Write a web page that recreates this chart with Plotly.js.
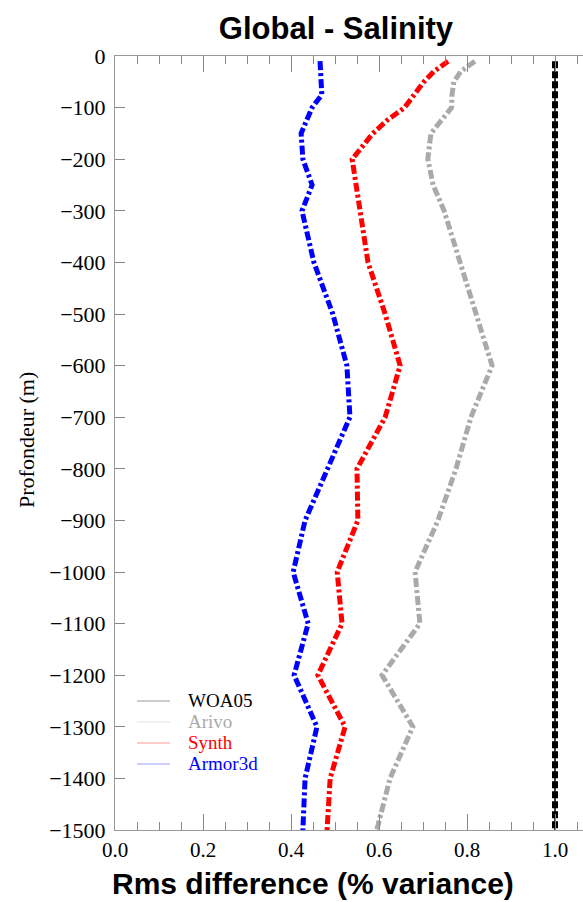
<!DOCTYPE html>
<html>
<head>
<meta charset="utf-8">
<script src="https://cdn.plot.ly/plotly-3.0.1.min.js"></script>
<style>
  html, body { margin: 0; padding: 0; background: #ffffff; }
  #chart { width: 583px; height: 902px; }
</style>
</head>
<body>
<div id="chart"></div>
<script>
// Depth levels (m)
var depth = [-10, -30, -50, -75, -100, -125, -150, -200, -250, -300, -400, -500,
             -600, -700, -800, -900, -1000, -1100, -1200, -1300, -1400, -1500];

// Rms difference (% variance) per product
var woa05   = [1.0, 1.0, 1.0, 1.0, 1.0, 1.0, 1.0, 1.0, 1.0, 1.0, 1.0, 1.0,
               1.0, 1.0, 1.0, 1.0, 1.0, 1.0, 1.0, 1.0, 1.0, 1.0];
var arivo   = [0.818, 0.786, 0.770, 0.766, 0.765, 0.743, 0.718, 0.711, 0.723, 0.748, 0.784, 0.820,
               0.857, 0.809, 0.775, 0.734, 0.682, 0.693, 0.607, 0.677, 0.625, 0.595];
var synth   = [0.757, 0.725, 0.702, 0.680, 0.658, 0.618, 0.586, 0.539, 0.548, 0.555, 0.575, 0.614,
               0.648, 0.614, 0.550, 0.552, 0.505, 0.516, 0.461, 0.523, 0.489, 0.482];
var armor3d = [0.466, 0.468, 0.470, 0.470, 0.448, 0.434, 0.423, 0.427, 0.448, 0.425, 0.452, 0.495,
               0.527, 0.534, 0.482, 0.432, 0.405, 0.439, 0.407, 0.459, 0.432, 0.427];

var seriesNames  = ['WOA05', 'Arivo', 'Synth', 'Armor3d'];
var seriesColors = ['#000000', '#aaaaaa', '#ff0000', '#0000ff'];
var legendLineColors = ['#999999', '#e4e4e4', '#ff9a9a', '#a0a0ff'];

var xTickVals = [0.0, 0.2, 0.4, 0.6, 0.8, 1.0];
var yTickVals = [0, -100, -200, -300, -400, -500, -600, -700, -800, -900, -1000,
                 -1100, -1200, -1300, -1400, -1500];

var serif = "'Liberation Serif', 'Times New Roman', Times, serif";
var sans = "'Liberation Sans', Arial, Helvetica, sans-serif";
var dashPat = '9px,3px,3px,3px';

var traces = [
  {x: woa05, y: depth, mode: 'lines', name: 'WOA05 base', showlegend: false,
   line: {color: '#000000', width: 1.5}, hoverinfo: 'skip'},
  {x: woa05, y: depth, mode: 'lines', name: seriesNames[0], showlegend: false,
   line: {color: seriesColors[0], width: 6, dash: '7px,3px'}},
  {x: arivo, y: depth, mode: 'lines', name: seriesNames[1], showlegend: false,
   line: {color: seriesColors[1], width: 5, dash: dashPat}},
  {x: synth, y: depth, mode: 'lines', name: seriesNames[2], showlegend: false,
   line: {color: seriesColors[2], width: 5, dash: dashPat}},
  {x: armor3d, y: depth, mode: 'lines', name: seriesNames[3], showlegend: false,
   line: {color: seriesColors[3], width: 5, dash: dashPat}}
];

// Manual legend (thin faded lines + coloured text), placed in pixels
var W = 583, H = 902, L = 115, T = 56, B = 72, R = 0;
var pw = W - L - R, ph = H - T - B;
function px2x(p) { return (p - L) / pw; }
function py2y(p) { return (H - B - p) / ph; }

var legRowsY = [700, 721, 742, 763];
var shapes = [], annotations = [];
for (var i = 0; i < seriesNames.length; i++) {
  shapes.push({type: 'line', xref: 'paper', yref: 'paper',
    x0: px2x(137), x1: px2x(170), y0: py2y(legRowsY[i] + 1), y1: py2y(legRowsY[i] + 1),
    line: {color: legendLineColors[i], width: 1.2}});
  annotations.push({xref: 'paper', yref: 'paper', x: px2x(186), y: py2y(legRowsY[i]),
    xanchor: 'left', yanchor: 'middle', showarrow: false, text: seriesNames[i],
    font: {family: serif, size: 19, color: seriesColors[i]}});
}
annotations.push({xref: 'paper', yref: 'paper', x: px2x(313), y: py2y(884),
  xanchor: 'center', yanchor: 'middle', showarrow: false,
  text: '<b>Rms difference (% variance)</b>',
  font: {family: sans, size: 30, color: '#000000'}});
annotations.push({xref: 'paper', yref: 'paper', x: px2x(26), y: py2y(440),
  xanchor: 'center', yanchor: 'middle', showarrow: false, textangle: -90,
  text: 'Profondeur (m)',
  font: {family: serif, size: 22, color: '#000000'}});

var layout = {
  width: W, height: H,
  margin: {l: L, r: R, t: T, b: B, pad: 0},
  paper_bgcolor: '#ffffff', plot_bgcolor: '#ffffff',
  showlegend: false,
  title: {text: '<b>Global - Salinity</b>', x: 336 / W, xref: 'container', xanchor: 'center',
          y: 1 - 28 / H, yref: 'container', yanchor: 'middle',
          font: {family: sans, size: 31, color: '#000000'}},
  xaxis: {
    range: [0, (W - L) / 440], autorange: false,
    tickvals: xTickVals, tickformat: '.1f',
    ticks: 'inside', ticklen: 16, tickwidth: 1, tickcolor: '#888888',
    minor: {dtick: 0.05, ticks: 'inside', ticklen: 8, tickwidth: 1, tickcolor: '#888888', showgrid: false},
    showline: true, linecolor: '#999999', linewidth: 1, mirror: 'allticks',
    showgrid: false, zeroline: false,
    tickfont: {family: serif, size: 21, color: '#000000'},
    ticklabelstandoff: 1
  },
  yaxis: {
    range: [-1500, 0], autorange: false,
    tickvals: yTickVals,
    ticks: 'inside', ticklen: 10, tickwidth: 1, tickcolor: '#888888',
    showline: true, linecolor: '#999999', linewidth: 1, mirror: false,
    showgrid: false, zeroline: false,
    tickfont: {family: serif, size: 22, color: '#000000'},
    ticklabelstandoff: 4
  },
  shapes: shapes,
  annotations: annotations
};

Plotly.newPlot('chart', traces, layout, {staticPlot: true, displayModeBar: false});
</script>
</body>
</html>
